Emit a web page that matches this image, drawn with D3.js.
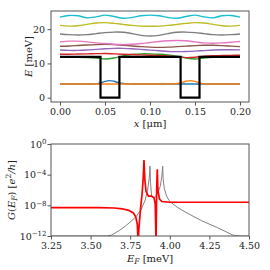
<!DOCTYPE html>
<html>
<head>
<meta charset="utf-8">
<script src="https://cdn.jsdelivr.net/npm/d3@7"></script>
<style>
  body { margin: 0; background: #fff; }
  svg text { font-family: "DejaVu Serif", serif; fill: #222; }
</style>
</head>
<body>
<script>
// top panel: levels + |psi|^2 along x (um)
const xGrid = [0, 0.01, 0.02, 0.03, 0.04, 0.05, 0.06, 0.07, 0.08, 0.09, 0.10,
               0.11, 0.12, 0.13, 0.14, 0.15, 0.16, 0.17, 0.18, 0.19, 0.20]
const lvlGreen  = [11.8, 11.8, 11.8, 11.75, 11.6, 11.3, 11.6, 12.2, 12.6, 12.8, 12.8,
                   12.7, 12.5, 12.1, 11.6, 11.3, 11.6, 11.8, 11.85, 11.85, 11.85]
const lvlRed    = [12.7, 12.7, 12.75, 12.8, 12.85, 12.9, 12.8, 12.7, 12.6, 12.5, 12.4,
                   12.3, 12.15, 11.9, 11.7, 11.8, 12.1, 12.25, 12.3, 12.35, 12.4]
const lvlPurple = [13.9, 13.8, 13.8, 13.9, 14.1, 14.3, 14.4, 14.4, 14.3, 14.1, 13.9,
                   13.7, 13.5, 13.45, 13.5, 13.6, 13.75, 13.9, 14.0, 14.0, 13.95]
const lvlBrown  = [15.0, 15.1, 15.25, 15.4, 15.5, 15.55, 15.5, 15.3, 15.1, 14.9, 14.75,
                   14.7, 14.75, 14.9, 15.05, 15.2, 15.3, 15.3, 15.2, 15.05, 14.9]
const lvlPink   = [16.3, 16.5, 16.5, 16.3, 16.0, 15.8, 15.6, 15.5, 15.6, 15.8, 16.1,
                   16.4, 16.6, 16.7, 16.6, 16.3, 16.0, 15.9, 16.0, 16.2, 16.4]
const lvlGray   = [18.6, 18.4, 18.3, 18.4, 18.7, 19.0, 19.15, 19.1, 18.7, 18.2, 18.0,
                   18.2, 18.7, 19.1, 19.15, 19.0, 18.7, 18.4, 18.3, 18.4, 18.6]
const lvlOlive  = [21.1, 20.9, 21.0, 21.4, 21.8, 21.9, 21.7, 21.4, 21.1, 20.9, 20.85,
                   20.9, 21.1, 21.4, 21.7, 21.9, 21.8, 21.4, 21.0, 20.9, 21.1]
const lvlCyan   = [23.5, 24.0, 23.9, 23.3, 23.6, 24.1, 23.7, 23.2, 23.4, 23.9, 24.1,
                   23.9, 23.4, 23.2, 23.7, 24.1, 23.6, 23.3, 23.9, 24.0, 23.5]

// bound states, finer sampling around the wells
const xBound   = [0, 0.035, 0.04, 0.045, 0.05, 0.055, 0.06, 0.065, 0.07, 0.075, 0.08,
                  0.12, 0.125, 0.13, 0.135, 0.14, 0.145, 0.15, 0.155, 0.16, 0.165, 0.2]
const lvlBlue   = [4.0, 4.0, 4.05, 4.3, 4.75, 5.0, 4.8, 4.4, 4.15, 4.05, 4.0,
                   4.0, 4.0, 4.0, 4.0, 4.0, 4.0, 4.0, 4.0, 4.0, 4.0, 4.0]
const lvlOrange = [4.0, 4.0, 4.0, 4.0, 4.0, 4.0, 4.0, 4.0, 4.0, 4.0, 4.0,
                   4.0, 4.05, 4.15, 4.4, 4.8, 5.0, 4.75, 4.3, 4.05, 4.0, 4.0]

// potential profile
const xPot = [0, 0.045, 0.045, 0.066, 0.066, 0.134, 0.134, 0.155, 0.155, 0.2]
const vPot = [11.9, 11.9, 0, 0, 11.9, 11.9, 0, 0, 11.9, 11.9]

// bottom panel: conductance vs Fermi energy (log10 of G)
const eRed = [3.25, 3.40, 3.55, 3.65, 3.70, 3.74, 3.77, 3.785, 3.795, 3.80, 3.805, 3.815,
              3.825, 3.832, 3.837, 3.842, 3.85, 3.865, 3.885, 3.90, 3.908, 3.913, 3.917,
              3.921, 3.925, 3.935, 3.95, 4.00, 4.50]
const gRed = [-8.3, -8.3, -8.3, -8.35, -8.45, -8.65, -9.0, -9.5, -10.5, -13, -11, -8.5,
              -6.5, -4.5, -2.1, -4.5, -6.2, -6.8, -6.8, -7.0, -7.8, -13, -6,
              -3.3, -6, -7.2, -7.5, -7.6, -7.6]
const eGray = [3.25, 3.60, 3.63, 3.68, 3.72, 3.76, 3.79, 3.82, 3.845, 3.86, 3.87, 3.875,
               3.878, 3.885, 3.90, 3.92, 3.94, 3.95, 3.955, 3.958, 3.965, 3.98, 4.00,
               4.05, 4.10, 4.20, 4.30, 4.36, 4.40, 4.45, 4.50]
const gGray = [-12, -12, -11.9, -11.3, -10.7, -10.0, -9.4, -8.5, -7.3, -6, -4.5, -2.9,
               -5, -6.8, -7.0, -6.6, -5.5, -4.2, -2.9, -4.5, -5.8, -6.8, -7.5,
               -8.3, -8.9, -10.0, -10.9, -11.5, -11.9, -12, -12]

const topTicksX = [0, 0.05, 0.10, 0.15, 0.20]
const topTicksY = [0, 10, 20]
const botTicksX = [3.25, 3.50, 3.75, 4.00, 4.25, 4.50]
const botTicksY = [0, -4, -8, -12]

const W = 270, H = 270
const left = 51, right = 249
const fs = 9.5

var svg = d3.select("body").append("svg").attr("width", W).attr("height", H)
svg.append("rect").attr("width", W).attr("height", H).attr("fill", "#fff")

function frame(g, x, y) {
    g.append("rect")
        .attr("x", x.range()[0]).attr("y", y.range()[1])
        .attr("width", x.range()[1] - x.range()[0])
        .attr("height", y.range()[0] - y.range()[1])
        .attr("fill", "none").attr("stroke", "#555").attr("stroke-width", 1)
}

function styleAxis(sel) {
    sel.attr("font-family", null)
    sel.select(".domain").remove()
    sel.selectAll(".tick line").attr("stroke", "#555")
    sel.selectAll(".tick text").attr("font-size", fs).attr("fill", "#222")
}

// ---------- top panel ----------
const xT = d3.scaleLinear().domain([-0.01, 0.21]).range([left, right])
const yT = d3.scaleLinear().domain([-1.25, 25.3]).range([102, 11])

var gT = svg.append("g")
gT.append("clipPath").attr("id", "clipT").append("rect")
    .attr("x", left).attr("y", 11).attr("width", right - left).attr("height", 91)

var lineT = d3.line().x(d => xT(d[0])).y(d => yT(d[1])).curve(d3.curveCatmullRom)
var lineStep = d3.line().x(d => xT(d[0])).y(d => yT(d[1]))

var series = [
    [xBound, lvlBlue, "#1f77b4"],
    [xBound, lvlOrange, "#ff7f0e"],
    [xGrid, lvlGreen, "#2ca02c"],
    [xGrid, lvlRed, "#d62728"],
    [xGrid, lvlPurple, "#9467bd"],
    [xGrid, lvlBrown, "#8c564b"],
    [xGrid, lvlPink, "#e377c2"],
    [xGrid, lvlGray, "#7f7f7f"],
    [xGrid, lvlOlive, "#bcbd22"],
    [xGrid, lvlCyan, "#17becf"]
]

var plotT = gT.append("g").attr("clip-path", "url(#clipT)")
series.forEach(s => {
    plotT.append("path")
        .datum(s[0].map((x, i) => [x, s[1][i]]))
        .attr("d", lineT)
        .attr("fill", "none").attr("stroke", s[2]).attr("stroke-width", 1.4)
})
plotT.append("path")
    .datum(xPot.map((x, i) => [x, vPot[i]]))
    .attr("d", lineStep)
    .attr("fill", "none").attr("stroke", "#000").attr("stroke-width", 2.2)

gT.append("g").attr("transform", "translate(0,102)")
    .call(d3.axisBottom(xT).tickValues(topTicksX).tickFormat(d3.format(".2f")).tickSizeOuter(0).tickSize(3.5).tickPadding(3))
    .call(styleAxis)
gT.append("g").attr("transform", "translate(" + left + ",0)")
    .call(d3.axisLeft(yT).tickValues(topTicksY).tickSizeOuter(0).tickSize(3.5).tickPadding(2.5))
    .call(styleAxis)
frame(gT, xT, yT)

gT.append("text").attr("x", (left + right) / 2).attr("y", 127)
    .attr("text-anchor", "middle").attr("font-size", 10)
    .html('<tspan font-style="italic">x</tspan> [μm]')

gT.append("text").attr("transform", "translate(32," + (11 + 102) / 2 + ") rotate(-90)")
    .attr("text-anchor", "middle").attr("font-size", 10)
    .html('<tspan font-style="italic">E</tspan> [meV]')

// ---------- bottom panel ----------
const top2 = 144, bot2 = 236
const xB = d3.scaleLinear().domain([3.25, 4.5]).range([left, right])
const yB = d3.scaleLog().domain([1e-12, 1]).range([bot2, top2])

var gB = svg.append("g")
gB.append("clipPath").attr("id", "clipB").append("rect")
    .attr("x", left).attr("y", top2 - 1).attr("width", right - left).attr("height", bot2 - top2 + 1)

var lineB = d3.line().x(d => xB(d[0])).y(d => yB(Math.pow(10, d[1])))

var plotB = gB.append("g").attr("clip-path", "url(#clipB)")
plotB.append("path")
    .datum(eGray.map((e, i) => [e, gGray[i]]))
    .attr("d", lineB)
    .attr("fill", "none").attr("stroke", "#808080").attr("stroke-width", 1)
plotB.append("path")
    .datum(eRed.map((e, i) => [e, gRed[i]]))
    .attr("d", lineB)
    .attr("fill", "none").attr("stroke", "#ff0000").attr("stroke-width", 1.7)

gB.append("g").attr("transform", "translate(0," + bot2 + ")")
    .call(d3.axisBottom(xB).tickValues(botTicksX).tickFormat(d3.format(".2f")).tickSizeOuter(0).tickSize(3.5).tickPadding(3))
    .call(styleAxis)

var yAx = gB.append("g").attr("transform", "translate(" + left + ",0)")
    .call(d3.axisLeft(yB).tickValues(botTicksY.map(p => Math.pow(10, p))).tickFormat("").tickSizeOuter(0).tickSize(3.5))
    .call(styleAxis)
yAx.selectAll(".tick text").each(function (d) {
    var p = Math.round(Math.log10(d))
    var t = d3.select(this).attr("x", -4.5)
    t.append("tspan").text("10")
    t.append("tspan").attr("dy", "-0.45em").attr("font-size", 7)
        .text(p == 0 ? "0" : "−" + Math.abs(p))
})
frame(gB, xB, yB)

gB.append("text").attr("x", (left + right) / 2).attr("y", 262)
    .attr("text-anchor", "middle").attr("font-size", 10)
    .html('<tspan font-style="italic">E</tspan><tspan font-style="italic" font-size="7.5" dy="2">F</tspan><tspan dy="-2"> [meV]</tspan>')

gB.append("text").attr("transform", "translate(15," + (top2 + bot2) / 2 + ") rotate(-90)")
    .attr("text-anchor", "middle").attr("font-size", 10)
    .html('<tspan font-style="italic">G</tspan>(<tspan font-style="italic">E</tspan><tspan font-style="italic" font-size="7.5" dy="2">F</tspan><tspan dy="-2">) [</tspan><tspan font-style="italic">e</tspan><tspan font-size="7.5" dy="-4">2</tspan><tspan dy="4" font-style="italic">/h</tspan>]')
</script>
</body>
</html>
